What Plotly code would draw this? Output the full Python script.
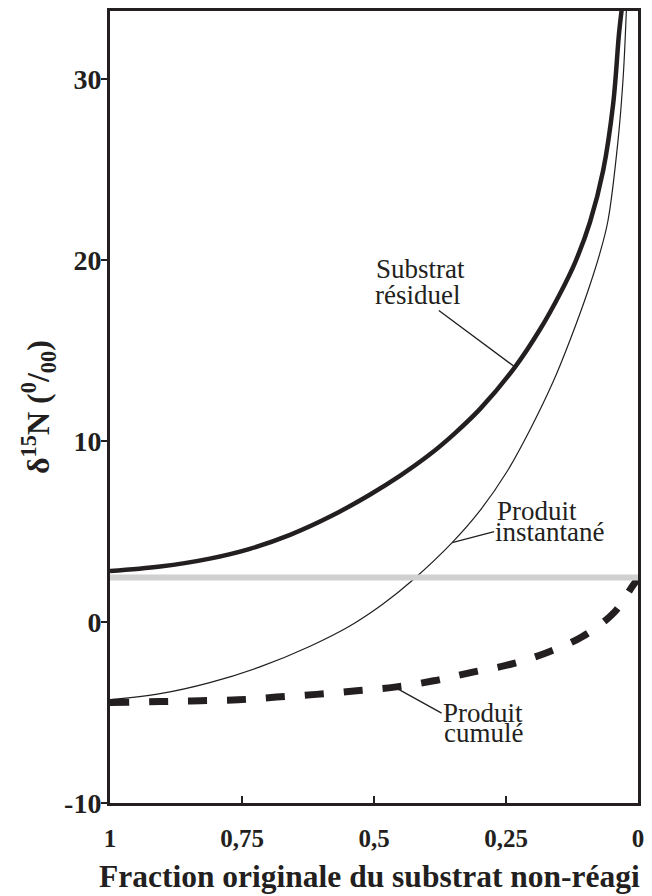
import plotly.graph_objects as go

# δ15N of substrate and products during progressive consumption of the substrate
fraction_residual = [1.0, 0.905, 0.811, 0.735, 0.659, 0.583, 0.508, 0.451, 0.394, 0.347,
                     0.299, 0.233, 0.186, 0.148, 0.119, 0.091, 0.066, 0.047, 0.036, 0.031]
delta_residual = [2.81, 3.06, 3.50, 4.04, 4.81, 5.82, 7.03, 8.07, 9.26, 10.42,
                  11.77, 14.08, 16.14, 18.12, 19.87, 22.08, 24.94, 28.63, 32.49, 33.8]

fraction_instant = [1.0, 0.905, 0.811, 0.716, 0.621, 0.545, 0.483, 0.426, 0.352, 0.299,
                    0.248, 0.205, 0.161, 0.129, 0.095, 0.072, 0.057, 0.038, 0.028, 0.022]
delta_instant = [-4.29, -3.96, -3.35, -2.48, -1.34, -0.21, 0.99, 2.33, 4.38, 6.16,
                 8.31, 10.59, 13.25, 15.55, 18.27, 20.39, 22.15, 26.55, 30.13, 33.8]

fraction_cumul = [1.0, 0.905, 0.829, 0.757, 0.685, 0.609, 0.533, 0.461,
                  0.387, 0.317, 0.243, 0.173, 0.105, 0.046, 0.01, 0.0]
delta_cumul = [-4.45, -4.4, -4.35, -4.3, -4.15, -4.0, -3.8, -3.6,
               -3.25, -2.8, -2.35, -1.7, -0.8, 0.5, 2.0, 2.4]

delta_initial = 2.45
fraction_span = [1.0, 0.0]

x_tick_values = [1, 0.75, 0.5, 0.25, 0]
x_tick_labels = ["1", "0,75", "0,5", "0,25", "0"]
y_tick_values = [-10, 0, 10, 20, 30]
y_tick_labels = ["-10", "0", "10", "20", "30"]

INK = "#231f20"
SERIF = "Liberation Serif, Times New Roman, serif"

fig = go.Figure()

fig.add_trace(go.Scatter(
    x=fraction_instant, y=delta_instant, mode="lines",
    line=dict(color=INK, width=1.2, shape="spline", smoothing=1.0),
    hoverinfo="skip", showlegend=False))

fig.add_trace(go.Scatter(
    x=fraction_cumul, y=delta_cumul, mode="lines",
    line=dict(color=INK, width=7, dash="19px,20px", shape="spline", smoothing=1.0),
    hoverinfo="skip", showlegend=False))

fig.add_trace(go.Scatter(
    x=fraction_residual, y=delta_residual, mode="lines",
    line=dict(color=INK, width=4.5, shape="spline", smoothing=1.0),
    hoverinfo="skip", showlegend=False))

# initial substrate composition
fig.add_trace(go.Scatter(
    x=fraction_span, y=[delta_initial, delta_initial], mode="lines",
    line=dict(color="#d0d0d0", width=6),
    hoverinfo="skip", showlegend=False))

label_font = dict(family=SERIF, size=27, color=INK)
i_res, i_inst, i_cum = 11, 8, 7

annotations = [
    # Substrat résiduel
    dict(x=fraction_residual[i_res], y=delta_residual[i_res], text="Substrat",
         showarrow=False, xanchor="left", yanchor="middle", xshift=-140, yshift=98,
         font=label_font, borderpad=0),
    dict(x=fraction_residual[i_res], y=delta_residual[i_res], text="résiduel",
         showarrow=True, arrowhead=0, arrowwidth=1.3, arrowcolor=INK,
         ax=-97, ay=-72, xanchor="center", yanchor="middle", font=label_font, borderpad=0),
    # Produit instantané
    dict(x=fraction_instant[i_inst], y=delta_instant[i_inst], text="Produit",
         showarrow=False, xanchor="left", yanchor="middle", xshift=44, yshift=32,
         font=label_font, borderpad=0),
    dict(x=fraction_instant[i_inst], y=delta_instant[i_inst], text="instantané",
         showarrow=True, arrowhead=0, arrowwidth=1.3, arrowcolor=INK,
         ax=42, ay=-11, xanchor="left", yanchor="middle", font=label_font, borderpad=0),
    # Produit cumulé
    dict(x=fraction_cumul[i_cum], y=delta_cumul[i_cum], text="Produit",
         showarrow=True, arrowhead=0, arrowwidth=1.3, arrowcolor=INK,
         ax=47, ay=26, xanchor="left", yanchor="middle", font=label_font, borderpad=0),
    dict(x=fraction_cumul[i_cum], y=delta_cumul[i_cum], text="cumulé",
         showarrow=False, xanchor="left", yanchor="middle", xshift=48, yshift=-46,
         font=label_font, borderpad=0),
    # axis titles
    dict(xref="paper", yref="paper", x=0.5, y=0, xshift=-5, yshift=-73,
         text="<b>Fraction originale du substrat non-réagi</b>", showarrow=False,
         xanchor="center", yanchor="middle",
         font=dict(family=SERIF, size=31.5, color=INK)),
    dict(xref="paper", yref="paper", x=0, y=0.5, xshift=-72, yshift=0,
         text="<b>δ<sup>15</sup>N (<sup>0</sup>/<sub>00</sub>)</b>", showarrow=False,
         textangle=-90, xanchor="center", yanchor="middle",
         font=dict(family=SERIF, size=32, color=INK)),
]

fig.update_layout(
    width=652, height=896,
    margin=dict(l=110, r=14, t=8, b=93, pad=0),
    paper_bgcolor="white", plot_bgcolor="white",
    annotations=annotations,
    xaxis=dict(
        range=[1, 0], tickvals=x_tick_values, ticktext=x_tick_labels,
        showgrid=False, zeroline=False,
        showline=True, linecolor=INK, linewidth=3, mirror=True,
        ticks="inside", ticklen=7, tickwidth=2, tickcolor=INK,
        tickfont=dict(family=SERIF, size=25, color=INK, weight="bold"),
        ticklabelstandoff=11,
    ),
    yaxis=dict(
        range=[-10, 33.75], tickvals=y_tick_values, ticktext=y_tick_labels,
        showgrid=False, zeroline=False,
        showline=True, linecolor=INK, linewidth=3, mirror=True,
        ticks="outside", ticklen=6, tickwidth=2, tickcolor=INK,
        tickfont=dict(family=SERIF, size=28, color=INK, weight="bold"),
        ticklabelstandoff=-6,
    ),
)

fig.write_html("out.html")
